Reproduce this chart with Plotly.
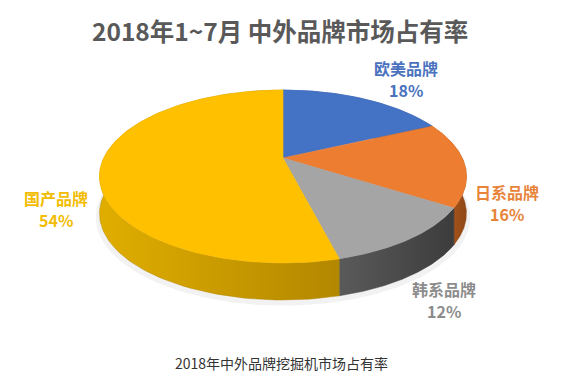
import numpy as np
import plotly.graph_objects as go

# ---- data ----
categories = ["欧美品牌", "日系品牌", "韩系品牌", "国产品牌"]
shares = [18, 16, 12, 54]
title_text = "2018年1~7月 中外品牌市场占有率"
caption_text = "2018年中外品牌挖掘机市场占有率"

# ---- styles ----
top_colors = ["#4472C4", "#ED7D31", "#A5A5A5", "#FFC000"]
side_grad = [["#3A62A8", "#2F528F"], ["#C8661F", "#8E4716"], ["#5A5A5A", "#3C3C3C"], ["#E0AE00", "#B38700"]]
label_colors = ["#4A72BE", "#E8843A", "#8C8C8C", "#F2BC00"]
label_pos = [(406, 68), (507, 192), (444, 289), (56, 198)]
LINE_GAP = 22

W, H = 574, 381
CX, CY = 283, 158      # projected pie centre
K = 0.214              # perspective strength
A, B = 179.2, 82.5     # horizontal / vertical radii
DEPTH = 37


def project(phi, drop=0.0, scale=1.0):
    u = np.cos(phi) * scale
    w = np.sin(phi) * scale
    s = 1.0 / (1.0 + K * w)
    return CX + A * u * s, CY - B * w * s + drop


fig = go.Figure()

# soft shadow under the pie
phis = np.linspace(0, 2 * np.pi, 200)
sx, sy = project(phis, drop=DEPTH + 3, scale=1.02)
fig.add_trace(go.Scatter(x=sx, y=sy, fill="toself", mode="lines",
                         line=dict(width=0, color="rgba(0,0,0,0)"),
                         fillcolor="rgba(0,0,0,0.05)", hoverinfo="skip"))

# slice angle ranges (start at 12 o'clock, clockwise)
total = float(sum(shares))
bounds = []
cum = 0.0
for v in shares:
    a0 = np.pi / 2 - 2 * np.pi * cum / total
    cum += v
    a1 = np.pi / 2 - 2 * np.pi * cum / total
    bounds.append((a0, a1))

# side walls
for i, (a0, a1) in enumerate(bounds):
    ph = np.linspace(a0, a1, 120)
    tx, ty = project(ph)
    bx, by = project(ph, drop=DEPTH)
    xs = np.concatenate([tx, bx[::-1], tx[:1]])
    ys = np.concatenate([ty, by[::-1], ty[:1]])
    fig.add_trace(go.Scatter(x=xs, y=ys, fill="toself", mode="lines",
                             line=dict(width=0.5, color=side_grad[i][1]),
                             fillgradient=dict(type="horizontal",
                                               colorscale=[[0, side_grad[i][0]], [1, side_grad[i][1]]]),
                             hoverinfo="skip"))

# top faces
for i, (a0, a1) in enumerate(bounds):
    ph = np.linspace(a0, a1, 160)
    tx, ty = project(ph)
    xs = np.concatenate([[CX], tx, [CX]])
    ys = np.concatenate([[CY], ty, [CY]])
    fig.add_trace(go.Scatter(x=xs, y=ys, fill="toself", mode="lines",
                             line=dict(width=0.6, color=top_colors[i]),
                             fillcolor=top_colors[i], hoverinfo="skip"))

annotations = [
    dict(x=280, y=30, text="<b>" + title_text + "</b>", showarrow=False,
         font=dict(family="Noto Sans CJK SC", size=24.5, color="#595959"),
         xanchor="center", yanchor="middle"),
    dict(x=281, y=363, text=caption_text, showarrow=False,
         font=dict(family="Noto Sans CJK SC", size=14, color="#333333"),
         xanchor="center", yanchor="middle"),
]
for i, (name, v) in enumerate(zip(categories, shares)):
    x, y = label_pos[i]
    for j, t in enumerate([name, "%d%%" % v]):
        annotations.append(dict(x=x, y=y + j * LINE_GAP, text="<b>%s</b>" % t, showarrow=False,
                                font=dict(family="Noto Sans CJK SC", size=16, color=label_colors[i]),
                                xanchor="center", yanchor="middle", align="center"))

fig.update_layout(
    width=W, height=H,
    margin=dict(l=0, r=0, t=0, b=0),
    paper_bgcolor="white", plot_bgcolor="white",
    showlegend=False, hovermode=False,
    xaxis=dict(range=[0, W], visible=False, fixedrange=True),
    yaxis=dict(range=[H, 0], visible=False, fixedrange=True),
    annotations=annotations,
)

fig.write_html("out.html", config={"displayModeBar": False},
               post_script="document.body.style.margin='0';document.body.style.overflow='hidden';")
